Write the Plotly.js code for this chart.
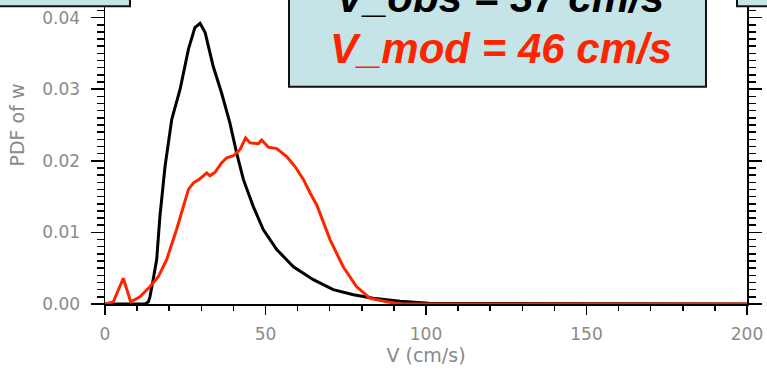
<!DOCTYPE html>
<html>
<head>
<meta charset="utf-8">
<script src="https://cdn.plot.ly/plotly-3.0.1.min.js"></script>
<style>
html,body{margin:0;padding:0;overflow:hidden;background:#fff;width:767px;height:374px;}
#chart{position:absolute;left:0;top:-54px;width:767px;height:428px;}
</style>
</head>
<body>
<div id="chart"></div>
<script>
// Observed PDF (black)
const obsV   = [0, 12.5, 13.5, 14.0, 15.0, 16.1, 17.1, 18.7, 20.8, 23.4, 26.0, 28.0, 29.6, 31.2, 33.7, 36.3, 38.9, 41.0, 43.1, 46.2, 49.3, 53.5, 58.7, 64.9, 71.1, 77.4, 83.6, 91.9, 101, 200];
const obsPDF = [0, 0, 0.0003, 0.0010, 0.0034, 0.0062, 0.0122, 0.0192, 0.0258, 0.0300, 0.0356, 0.0386, 0.0392, 0.0379, 0.0332, 0.0295, 0.0253, 0.0211, 0.0174, 0.0136, 0.0104, 0.0076, 0.0052, 0.0034, 0.0020, 0.0013, 0.0008, 0.0004, 0.0001, 0];
// Model PDF (red)
const modV   = [0, 2.6, 5.7, 8.0, 10.9, 14.0, 16.6, 19.2, 22.3, 24.4, 26.0, 27.5, 29.6, 31.7, 32.7, 34.3, 36.3, 37.9, 40.0, 42.1, 43.8, 45.2, 47.8, 48.8, 50.9, 53.5, 56.6, 59.2, 61.8, 63.9, 66.0, 70.1, 74.2, 78.4, 82.6, 87.8, 91.9, 200];
const modPDF = [0, 0.0003, 0.0036, 0.0003, 0.0010, 0.0024, 0.0038, 0.0062, 0.0104, 0.0134, 0.0160, 0.0169, 0.0175, 0.0183, 0.0179, 0.0184, 0.0197, 0.0204, 0.0207, 0.0216, 0.0232, 0.0225, 0.0224, 0.0229, 0.0219, 0.0217, 0.0206, 0.0192, 0.0174, 0.0155, 0.0138, 0.0090, 0.0052, 0.0024, 0.0008, 0.0003, 0, 0];

const xTickVals = [0, 50, 100, 150, 200];
const xTickText = ["0", "50", "100", "150", "200"];
const yTickVals = [0, 0.01, 0.02, 0.03, 0.04, 0.05];
const yTickText = ["0.00", "0.01", "0.02", "0.03", "0.04", "0.05"];
const obsLabel = "V_obs = 37 cm/s";
const modLabel = "V_mod = 46 cm/s";
const xTitle = "V (cm/s)";
const yTitle = "PDF of w";

const RED = "#ff2400";
const BOXFILL = "#c5e4e7";
const GRAY = "#8a8a8a";
const tickFont = {family: "DejaVu Sans", size: 17, color: GRAY};

const traces = [
  {x: obsV, y: obsPDF, mode: "lines", line: {color: "#000", width: 3}, hoverinfo: "skip", showlegend: false},
  {x: modV, y: modPDF, mode: "lines", line: {color: RED, width: 3}, hoverinfo: "skip", showlegend: false}
];

const layout = {
  width: 767, height: 428,
  margin: {l: 105, r: 20, t: 0, b: 70},
  paper_bgcolor: "#fff", plot_bgcolor: "#fff",
  showlegend: false,
  xaxis: {
    range: [0, 200], tickvals: xTickVals, ticktext: xTickText,
    ticks: "outside", ticklen: 9, tickwidth: 1.5, tickcolor: "#000",
    minor: {dtick: 10, ticks: "outside", ticklen: 5, tickwidth: 1.5, tickcolor: "#000", showgrid: false},
    showline: true, linecolor: "#000", linewidth: 1.5, mirror: "ticks",
    showgrid: false, zeroline: false, tickfont: tickFont, ticklabelstandoff: 5,
    title: {text: xTitle, font: {family: "DejaVu Sans", size: 19, color: GRAY}, standoff: 4}
  },
  yaxis: {
    range: [0, 0.05], tickvals: yTickVals, ticktext: yTickText,
    ticks: "outside", ticklen: 13, tickwidth: 1.5, tickcolor: "#000",
    minor: {dtick: 0.001, ticks: "outside", ticklen: 7, tickwidth: 1.5, tickcolor: "#000", showgrid: false},
    showline: true, linecolor: "#000", linewidth: 1.5, mirror: "ticks",
    showgrid: false, zeroline: false, tickfont: tickFont, ticklabelstandoff: 7,
    title: {text: yTitle, font: {family: "DejaVu Sans", size: 19, color: GRAY}, standoff: 12}
  },
  shapes: [
    {type: "rect", xref: "paper", yref: "paper", x0: -0.25, x1: 0.0389, y0: 0.832, y1: 1.1, fillcolor: BOXFILL, line: {color: "#111", width: 2}, layer: "above"},
    {type: "rect", xref: "paper", yref: "paper", x0: 0.2866, x1: 0.9361, y0: 0.607, y1: 1.1, fillcolor: BOXFILL, line: {color: "#111", width: 2}, layer: "above"},
    {type: "rect", xref: "paper", yref: "paper", x0: 0.9844, x1: 1.1, y0: 0.832, y1: 1.1, fillcolor: BOXFILL, line: {color: "#111", width: 2}, layer: "above"}
  ],
  annotations: [
    {xref: "paper", yref: "paper", x: 0.6153, y: 0.8575, xanchor: "center", yanchor: "middle", showarrow: false,
     text: "<b><i>" + obsLabel + "</i></b>", font: {family: "Liberation Sans", size: 42, color: "#000"}},
    {xref: "paper", yref: "paper", x: 0.6168, y: 0.7134, xanchor: "center", yanchor: "middle", showarrow: false,
     text: "<b><i>" + modLabel + "</i></b>", font: {family: "Liberation Sans", size: 42, color: RED}}
  ]
};

Plotly.newPlot("chart", traces, layout, {displayModeBar: false, staticPlot: true});
</script>
</body>
</html>
